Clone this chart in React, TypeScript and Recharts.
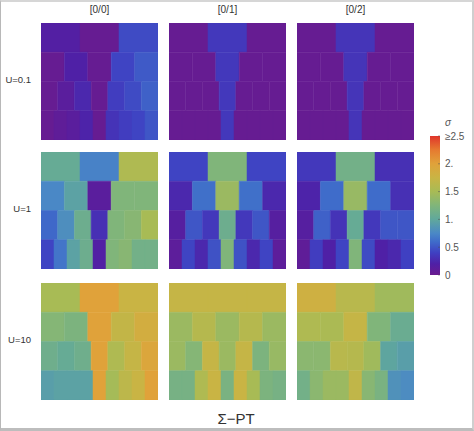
import { BarChart, Bar, Cell, XAxis, YAxis } from 'recharts';

const columnLabels = ['[0/0]', '[0/1]', '[0/2]'];
const rowLabels = ['U=0.1', 'U=1', 'U=10'];
const sigmaTicks = [0, 0.5, 1, 1.5, 2, 2.5];
const sigmaTickLabels = ['0', '0.5', '1.', '1.5', '2.', '≥2.5'];

// sigma of every block, top row first (3, 5, 7 and 9 blocks per row)
const u01_00 = [
  [0.17, 0.03, 0.45],
  [0.03, 0.2, 0.03, 0.42, 0.52],
  [0.03, 0.12, 0.25, 0.03, 0.38, 0.45, 0.55],
  [0.03, 0.08, 0.12, 0.22, 0.03, 0.32, 0.38, 0.42, 0.5],
];
const u01_01 = [
  [0.03, 0.35, 0.03],
  [0.03, 0.03, 0.35, 0.03, 0.03],
  [0.03, 0.03, 0.03, 0.35, 0.03, 0.03, 0.03],
  [0.03, 0.03, 0.03, 0.03, 0.35, 0.03, 0.03, 0.03, 0.03],
];
const u01_02 = [
  [0.03, 0.33, 0.03],
  [0.03, 0.03, 0.33, 0.03, 0.03],
  [0.03, 0.03, 0.03, 0.33, 0.03, 0.03, 0.03],
  [0.03, 0.03, 0.03, 0.03, 0.33, 0.03, 0.03, 0.03, 0.03],
];
const u1_00 = [
  [1.05, 0.72, 1.55],
  [0.75, 0.95, 0.12, 1.25, 1.25],
  [0.58, 0.8, 1.1, 0.3, 1.25, 1.3, 1.5],
  [0.42, 0.65, 0.95, 1.1, 0.18, 1.25, 1.3, 1.15, 1.15],
];
const u1_01 = [
  [0.42, 1.25, 0.42],
  [0.25, 0.62, 1.42, 0.62, 0.25],
  [0.15, 0.5, 0.35, 1.1, 0.35, 0.5, 0.15],
  [0.1, 0.42, 0.25, 0.48, 1.25, 0.48, 0.25, 0.42, 0.1],
];
const u1_02 = [
  [0.35, 1.15, 0.3],
  [0.22, 0.6, 1.4, 0.6, 0.3],
  [0.15, 0.55, 0.32, 1.05, 0.35, 0.5, 0.5],
  [0.08, 0.38, 0.2, 0.42, 1.25, 0.45, 0.2, 0.25, 0.4],
];
const u10_00 = [
  [1.5, 2.0, 1.75],
  [1.28, 1.22, 2.0, 1.7, 1.85],
  [1.12, 1.05, 1.12, 2.0, 1.55, 1.72, 1.95],
  [0.92, 0.95, 0.95, 0.95, 2.0, 1.48, 1.65, 1.75, 2.0],
];
const u10_01 = [
  [1.72, 1.72, 1.72],
  [1.42, 1.6, 1.42, 1.6, 1.42],
  [1.42, 1.28, 1.72, 1.42, 1.72, 1.22, 1.4],
  [1.18, 1.18, 1.55, 1.75, 1.2, 1.75, 1.5, 1.22, 1.18],
];
const u10_02 = [
  [1.8, 1.62, 1.45],
  [1.55, 1.52, 1.72, 1.25, 1.08],
  [1.32, 1.32, 1.62, 1.6, 1.45, 0.98, 0.92],
  [1.15, 1.32, 1.42, 1.42, 1.68, 1.3, 1.2, 0.82, 0.78],
];
const panels = [
  [u01_00, u01_01, u01_02],
  [u1_00, u1_01, u1_02],
  [u10_00, u10_01, u10_02],
];

const COLOR_STOPS: [number, string][] = [
  [0, '#6a1b8f'],
  [0.2, '#4f20a6'],
  [0.4, '#3f40c2'],
  [0.6, '#3f6cca'],
  [0.75, '#4a88c6'],
  [1, '#60a89c'],
  [1.25, '#80b57a'],
  [1.5, '#a8bb55'],
  [1.75, '#c9b444'],
  [2, '#e0a23a'],
  [2.25, '#e67a30'],
  [2.5, '#e0352b'],
];

function hexToRgb(hex: string) {
  return [1, 3, 5].map((i) => parseInt(hex.slice(i, i + 2), 16));
}

function sigmaColor(v: number) {
  for (let i = 1; i < COLOR_STOPS.length; i++) {
    const [v1, c1] = COLOR_STOPS[i];
    const [v0, c0] = COLOR_STOPS[i - 1];
    if (v <= v1) {
      const t = (v - v0) / (v1 - v0);
      const a = hexToRgb(c0);
      const b = hexToRgb(c1);
      return `rgb(${a.map((x, k) => Math.round(x + (b[k] - x) * t)).join(',')})`;
    }
  }
  return COLOR_STOPS[COLOR_STOPS.length - 1][1];
}

const FONT = '"Liberation Sans", Arial, sans-serif';
const PANEL_X = [41, 169, 297];
const PANEL_Y = [23, 152, 283];
const PANEL_SIZE = 117;
const BLOCK_KEYS = ['b0', 'b1', 'b2', 'b3', 'b4', 'b5', 'b6', 'b7', 'b8'];

function Panel({ rows, left, top }: { rows: number[][]; left: number; top: number }) {
  // every block counts 1, the expand offset shares each row out evenly
  const table = rows.map((r, i) => {
    const row: Record<string, number | string> = { row: `r${i}` };
    r.forEach((_, k) => {
      row[BLOCK_KEYS[k]] = 1;
    });
    return row;
  });
  return (
    <div style={{ position: 'absolute', left, top }}>
      <BarChart
        width={PANEL_SIZE}
        height={PANEL_SIZE}
        data={table}
        layout="vertical"
        stackOffset="expand"
        barCategoryGap={0}
        barSize={29.24} // just under the band, or recharts shrinks it
        margin={{ top: 0, right: 0, bottom: 0, left: 0 }}
      >
        <XAxis type="number" domain={[0, 1]} hide />
        <YAxis type="category" dataKey="row" hide />
        {BLOCK_KEYS.map((key, k) => (
          <Bar key={key} dataKey={key} stackId="a" isAnimationActive={false}>
            {rows.map((r, i) => (
              <Cell
                key={i}
                fill={r[k] === undefined ? 'none' : sigmaColor(r[k])}
                stroke={r[k] === undefined ? 'none' : sigmaColor(r[k])}
                strokeWidth={0.5}
              />
            ))}
          </Bar>
        ))}
      </BarChart>
    </div>
  );
}

const colorBarData = [{ name: 'sigma', top: 2.5 }];

function ColorBar() {
  return (
    <div style={{ position: 'absolute', left: 430, top: 131 }}>
      <BarChart
        width={44}
        height={150}
        data={colorBarData}
        barCategoryGap={0}
        margin={{ top: 5, right: 0, bottom: 6, left: 0 }}
      >
        <defs>
          <linearGradient id="sigmaScale" x1="0" y1="1" x2="0" y2="0">
            {COLOR_STOPS.map(([v, c]) => (
              <stop key={v} offset={`${(v / 2.5) * 100}%`} stopColor={c} />
            ))}
          </linearGradient>
        </defs>
        <XAxis dataKey="name" hide />
        <YAxis
          orientation="right"
          width={34}
          domain={[0, 2.5]}
          ticks={sigmaTicks}
          axisLine={false}
          tickSize={-2}
          tickLine={{ stroke: 'rgba(80,80,80,0.5)' }}
          tickMargin={0}
          interval={0}
          tick={{ fontSize: 10, fill: '#555', fontFamily: FONT, dx: 7 }}
          tickFormatter={(v: number) => sigmaTickLabels[sigmaTicks.indexOf(v)]}
        />
        <Bar dataKey="top" fill="url(#sigmaScale)" isAnimationActive={false} />
      </BarChart>
    </div>
  );
}

const textStyle: React.CSSProperties = {
  position: 'absolute',
  fontFamily: FONT,
  color: '#333',
  whiteSpace: 'nowrap',
  lineHeight: 1,
};

export default function App() {
  return (
    <div
      style={{
        position: 'absolute',
        left: 0,
        top: 0,
        width: 474,
        height: 431,
        background: '#fff',
        overflow: 'hidden',
      }}
    >
      {columnLabels.map((label, c) => (
        <div
          key={label}
          style={{ ...textStyle, left: PANEL_X[c], width: PANEL_SIZE, top: 5, fontSize: 10, textAlign: 'center' }}
        >
          {label}
        </div>
      ))}
      {rowLabels.map((label, r) => (
        <div
          key={label}
          style={{ ...textStyle, left: 0, width: 31, top: PANEL_Y[r] + 52, fontSize: 9.5, textAlign: 'right' }}
        >
          {label}
        </div>
      ))}
      {panels.map((row, r) =>
        row.map((rows, c) => <Panel key={`${r}-${c}`} rows={rows} left={PANEL_X[c]} top={PANEL_Y[r]} />),
      )}
      <div style={{ ...textStyle, left: 445, top: 118, fontSize: 10, fontStyle: 'italic', color: '#555' }}>σ</div>
      <ColorBar />
      <div style={{ ...textStyle, left: 186, width: 100, top: 411, fontSize: 15, textAlign: 'center' }}>Σ−PT</div>
      {/* grey page frame */}
      <div
        style={{
          position: 'absolute',
          inset: 0,
          boxSizing: 'border-box',
          borderTop: '2px solid #d6d6d6',
          borderRight: '2px solid #cfcfcf',
          borderBottom: '3px solid #bdbdbd',
          borderLeft: '1px solid #b8b8b8',
        }}
      />
    </div>
  );
}
